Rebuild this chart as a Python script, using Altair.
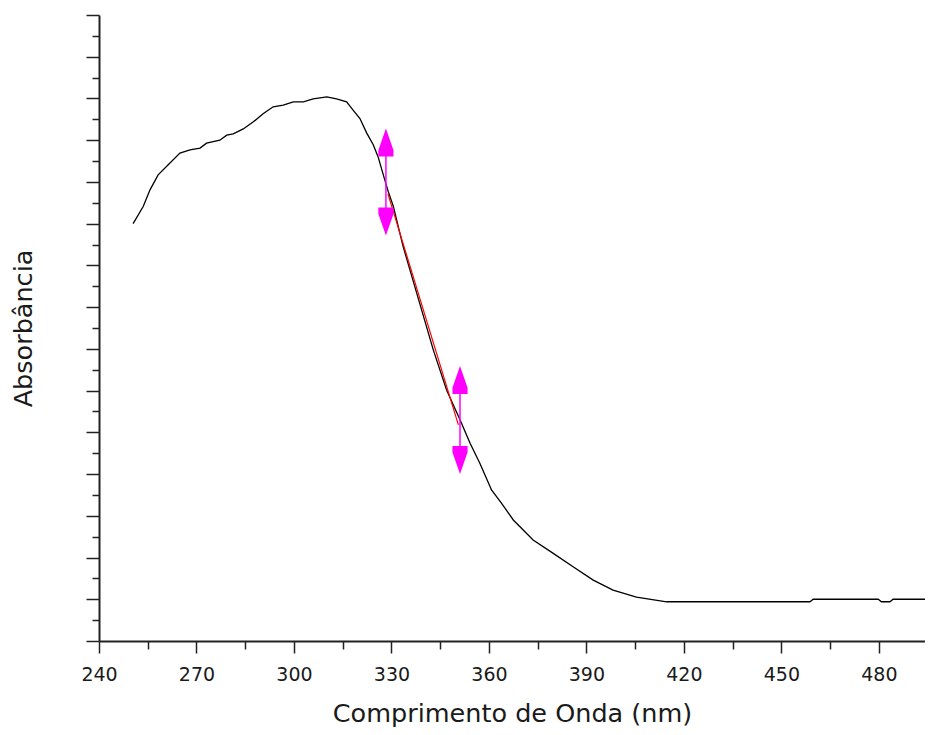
import altair as alt
import pandas as pd

# Spectrum (wavelength nm, absorbance in arbitrary units)
wavelength = [250.5, 253.6, 255.7, 258.2, 261.3, 264.9, 268.0, 271.1, 273.1, 277.2,
              279.3, 281.3, 284.4, 287.5, 290.6, 293.6, 296.7, 299.8, 302.9, 305.9,
              310.1, 313.1, 316.2, 318.2, 320.3, 322.4, 324.4, 325.9, 327.5, 329.0,
              330.6, 332.1, 333.6, 342.9, 347.0, 351.1, 354.2, 357.2, 360.8, 363.9,
              367.5, 373.6, 379.8, 385.9, 392.1, 398.2, 405.4, 414.7, 458.8, 459.8,
              479.8, 480.8, 483.4, 484.4, 496.6]
absorbance = [1.000, 1.041, 1.081, 1.117, 1.141, 1.169, 1.177, 1.181, 1.193, 1.200,
              1.212, 1.215, 1.227, 1.244, 1.264, 1.280, 1.284, 1.292, 1.292, 1.299,
              1.304, 1.299, 1.292, 1.272, 1.252, 1.217, 1.189, 1.160, 1.117, 1.077,
              1.041, 0.993, 0.945, 0.697, 0.601, 0.530, 0.474, 0.426, 0.362, 0.330,
              0.290, 0.242, 0.210, 0.178, 0.146, 0.122, 0.105, 0.094, 0.094, 0.100,
              0.100, 0.094, 0.094, 0.100, 0.100]

# Tangent (red) segment
tangent_wl = [328.9, 350.6]
tangent_abs = [1.072, 0.518]

# Cursor markers (magenta double arrows)
cursor_wl = [328.3, 351.1]
cursor_up = [1.1945, 0.6254]
cursor_down = [1.005, 0.4337]

x_ticks = list(range(240, 495, 15))
y_ticks = [round(i * 0.05, 2) for i in range(31)]

curve = pd.DataFrame({"wl": wavelength, "abs": absorbance})
tangent = pd.DataFrame({"wl": tangent_wl, "abs": tangent_abs})
cursors = pd.DataFrame({"wl": cursor_wl, "abs": cursor_up, "abs2": cursor_down})
ups = pd.DataFrame({"wl": cursor_wl, "abs": cursor_up})
downs = pd.DataFrame({"wl": cursor_wl, "abs": cursor_down})

FONT = "DejaVu Sans"

x_axis = alt.Axis(
    values=x_ticks,
    title="Comprimento de Onda (nm)",
    labelExpr="datum.value % 30 === 0 ? datum.label : ''",
    tickSize={"condition": {"test": "datum.value % 30 === 0", "value": 12}, "value": 8},
    grid=False,
    domainColor="#222222",
    domainWidth=2,
    tickColor="#222222",
    tickWidth=1.5,
    labelFont=FONT,
    labelFontSize=19,
    labelColor="#1a1a1a",
    labelPadding=12,
    labelFlush=False,
    titleFont=FONT,
    titleFontSize=25.5,
    titleFontWeight="normal",
    titleColor="#1a1a1a",
    titlePadding=17,
)

y_axis = alt.Axis(
    values=y_ticks,
    title="Absorbância",
    labels=False,
    tickSize={"condition": {"test": "round(datum.value * 20) % 2 === 0", "value": 13}, "value": 7},
    grid=False,
    domainColor="#222222",
    domainWidth=2,
    tickColor="#222222",
    tickWidth=1.5,
    titleFont=FONT,
    titleFontSize=25.5,
    titleFontWeight="normal",
    titleColor="#1a1a1a",
    titlePadding=49,
)

x_enc = alt.X("wl:Q", scale=alt.Scale(domain=[240, 494.2], nice=False, zero=False), axis=x_axis)
y_enc = alt.Y("abs:Q", scale=alt.Scale(domain=[0, 1.5], nice=False, zero=False), axis=y_axis)

line = alt.Chart(curve).mark_line(color="#000000", strokeWidth=1.3, clip=True).encode(x=x_enc, y=y_enc)
red = alt.Chart(tangent).mark_line(color="#FF0000", strokeWidth=1.2).encode(x=x_enc, y=y_enc)
rule = alt.Chart(cursors).mark_rule(color="#FF00FF", strokeWidth=1.5).encode(x=x_enc, y=y_enc, y2="abs2:Q")

UP = "M0,-1L0.54,0.55L0.54,1L-0.54,1L-0.54,0.55Z"
DOWN = "M-0.54,-1L0.54,-1L0.54,-0.55L0,1L-0.54,-0.55Z"
up_pts = alt.Chart(ups).mark_point(shape=UP, size=784, filled=True, color="#FF00FF", opacity=1, strokeWidth=0).encode(x=x_enc, y=y_enc)
down_pts = alt.Chart(downs).mark_point(shape=DOWN, size=784, filled=True, color="#FF00FF", opacity=1, strokeWidth=0).encode(x=x_enc, y=y_enc)

chart = alt.layer(line, red, rule, up_pts, down_pts).properties(
    width=826,
    height=626,
    autosize=alt.AutoSizeParams(type="none"),
    padding={"left": 91, "top": 7, "right": 0, "bottom": 86},
    background="white",
).configure_view(stroke=None)

chart.save("out.html", embed_options={"renderer": "svg", "actions": False})
